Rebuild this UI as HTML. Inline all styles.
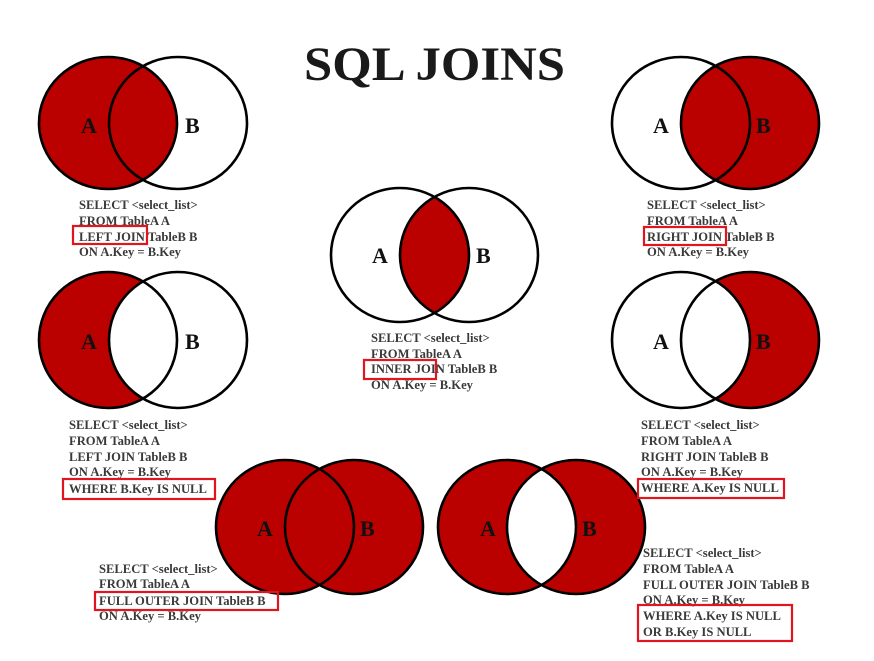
<!DOCTYPE html>
<html><head><meta charset="utf-8"><style>
html,body{margin:0;padding:0;background:#fff;}
svg{display:block;}
.t{font-family:"Liberation Serif",serif;font-weight:bold;font-size:12.6px;fill:#3a3a3a;}
.l{font-family:"Liberation Serif",serif;font-weight:bold;font-size:22px;fill:#111;}
.box{fill:none;stroke:#e0151e;stroke-width:2.2;}
.c{fill:none;stroke:#000;stroke-width:2.6;}
</style></head><body>
<svg width="874" height="661" viewBox="0 0 874 661" xmlns="http://www.w3.org/2000/svg">
<defs>
<clipPath id="cA1"><ellipse cx="400" cy="255" rx="69" ry="67"/></clipPath>
<clipPath id="cB2"><ellipse cx="178" cy="340" rx="69" ry="68"/></clipPath>
<clipPath id="cA3"><ellipse cx="681" cy="340" rx="69" ry="68"/></clipPath>
<clipPath id="cB4"><ellipse cx="576" cy="527" rx="69" ry="67"/></clipPath>
</defs>
<text x="304" y="80" textLength="261" lengthAdjust="spacingAndGlyphs" style="font-family:'Liberation Serif',serif;font-weight:bold;font-size:48px;fill:#1a1a1a">SQL JOINS</text>

<ellipse cx="108" cy="123" rx="69" ry="66" fill="#bb0000"/>
<ellipse cx="108" cy="123" rx="69" ry="66" class="c"/>
<ellipse cx="178" cy="123" rx="69" ry="66" class="c"/>
<text class="l" x="81" y="133">A</text><text class="l" x="185" y="133">B</text>

<ellipse cx="750" cy="123" rx="69" ry="66" fill="#bb0000"/>
<ellipse cx="681" cy="123" rx="69" ry="66" class="c"/>
<ellipse cx="750" cy="123" rx="69" ry="66" class="c"/>
<text class="l" x="653" y="133">A</text><text class="l" x="756" y="133">B</text>

<ellipse cx="469" cy="255" rx="69" ry="67" fill="#bb0000" clip-path="url(#cA1)"/>
<ellipse cx="400" cy="255" rx="69" ry="67" class="c"/>
<ellipse cx="469" cy="255" rx="69" ry="67" class="c"/>
<text class="l" x="372" y="263">A</text><text class="l" x="476" y="263">B</text>

<ellipse cx="108" cy="340" rx="69" ry="68" fill="#bb0000"/>
<ellipse cx="108" cy="340" rx="69" ry="68" fill="#fff" clip-path="url(#cB2)"/>
<ellipse cx="108" cy="340" rx="69" ry="68" class="c"/>
<ellipse cx="178" cy="340" rx="69" ry="68" class="c"/>
<text class="l" x="81" y="349">A</text><text class="l" x="185" y="349">B</text>

<ellipse cx="750" cy="340" rx="69" ry="68" fill="#bb0000"/>
<ellipse cx="750" cy="340" rx="69" ry="68" fill="#fff" clip-path="url(#cA3)"/>
<ellipse cx="681" cy="340" rx="69" ry="68" class="c"/>
<ellipse cx="750" cy="340" rx="69" ry="68" class="c"/>
<text class="l" x="653" y="349">A</text><text class="l" x="756" y="349">B</text>

<ellipse cx="285" cy="527" rx="69" ry="67" fill="#bb0000"/>
<ellipse cx="354" cy="527" rx="69" ry="67" fill="#bb0000"/>
<ellipse cx="285" cy="527" rx="69" ry="67" class="c"/>
<ellipse cx="354" cy="527" rx="69" ry="67" class="c"/>
<text class="l" x="257" y="536">A</text><text class="l" x="360" y="536">B</text>

<ellipse cx="507" cy="527" rx="69" ry="67" fill="#bb0000"/>
<ellipse cx="576" cy="527" rx="69" ry="67" fill="#bb0000"/>
<ellipse cx="507" cy="527" rx="69" ry="67" fill="#fff" clip-path="url(#cB4)"/>
<ellipse cx="507" cy="527" rx="69" ry="67" class="c"/>
<ellipse cx="576" cy="527" rx="69" ry="67" class="c"/>
<text class="l" x="480" y="536">A</text><text class="l" x="582" y="536">B</text>

<g class="t">
<text x="79" y="209">SELECT &lt;select_list&gt;</text>
<text x="79" y="225">FROM TableA A</text>
<text x="79" y="241">LEFT JOIN TableB B</text>
<text x="79" y="256">ON A.Key = B.Key</text>

<text x="647" y="209">SELECT &lt;select_list&gt;</text>
<text x="647" y="225">FROM TableA A</text>
<text x="647" y="241">RIGHT JOIN TableB B</text>
<text x="647" y="256">ON A.Key = B.Key</text>

<text x="371" y="342">SELECT &lt;select_list&gt;</text>
<text x="371" y="358">FROM TableA A</text>
<text x="371" y="373">INNER JOIN TableB B</text>
<text x="371" y="389">ON A.Key = B.Key</text>

<text x="69" y="429">SELECT &lt;select_list&gt;</text>
<text x="69" y="445">FROM TableA A</text>
<text x="69" y="461">LEFT JOIN TableB B</text>
<text x="69" y="476">ON A.Key = B.Key</text>
<text x="69" y="493">WHERE B.Key IS NULL</text>

<text x="641" y="429">SELECT &lt;select_list&gt;</text>
<text x="641" y="445">FROM TableA A</text>
<text x="641" y="461">RIGHT JOIN TableB B</text>
<text x="641" y="476">ON A.Key = B.Key</text>
<text x="641" y="492">WHERE A.Key IS NULL</text>

<text x="99" y="573">SELECT &lt;select_list&gt;</text>
<text x="99" y="588">FROM TableA A</text>
<text x="99" y="605">FULL OUTER JOIN TableB B</text>
<text x="99" y="620">ON A.Key = B.Key</text>

<text x="643" y="557">SELECT &lt;select_list&gt;</text>
<text x="643" y="573">FROM TableA A</text>
<text x="643" y="589">FULL OUTER JOIN TableB B</text>
<text x="643" y="604">ON A.Key = B.Key</text>
<text x="643" y="620">WHERE A.Key IS NULL</text>
<text x="643" y="636">OR B.Key IS NULL</text>
</g>

<rect class="box" x="73" y="226" width="74" height="18"/>
<rect class="box" x="644" y="227" width="82" height="18"/>
<rect class="box" x="364" y="360" width="72" height="19"/>
<rect class="box" x="63" y="479" width="152" height="20"/>
<rect class="box" x="638" y="479" width="146" height="19"/>
<rect class="box" x="95" y="592" width="183" height="18"/>
<rect class="box" x="638" y="605" width="154" height="36"/>
</svg>
</body></html>
